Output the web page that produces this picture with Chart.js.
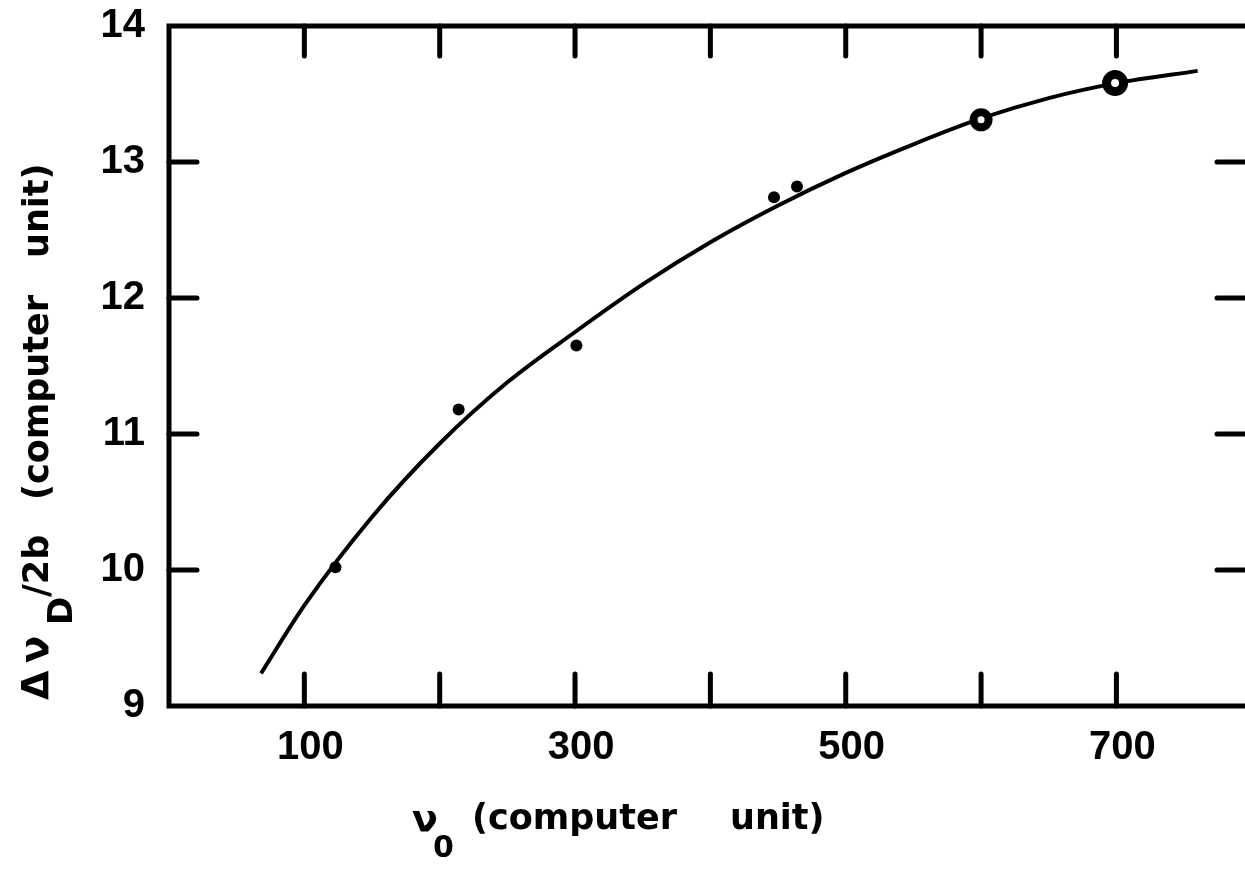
<!DOCTYPE html>
<html>
<head>
<meta charset="utf-8">
<script src="https://cdn.jsdelivr.net/npm/chart.js@4.4.1/dist/chart.umd.min.js"></script>
<style>
  html, body { margin: 0; padding: 0; background: #fff; }
  #wrap { width: 1245px; height: 870px; position: relative; }
</style>
</head>
<body>
<div id="wrap"><canvas id="grafico"></canvas></div>
<script>
// curva ajustada
const curvaX = [68, 100, 150, 200, 250, 300, 350, 400, 450, 500, 550, 600, 650, 700, 760];
const curvaY = [9.24, 9.74, 10.39, 10.93, 11.38, 11.75, 12.10, 12.41, 12.68, 12.92, 13.13, 13.32, 13.47, 13.58, 13.67];

// pontos pequenos
const pontosX = [123, 214, 301, 447, 464];
const pontosY = [10.02, 11.18, 11.65, 12.74, 12.82];

// pontos circulados
const aneisX = [600, 699];
const aneisY = [13.31, 13.58];

// eixos
const xTicks = [100, 200, 300, 400, 500, 600, 700];
const xLabels = [100, 300, 500, 700];
const yTicks = [9, 10, 11, 12, 13, 14];
const yMarcas = [10, 11, 12, 13];

const pares = (xs, ys) => xs.map((v, i) => ({ x: v, y: ys[i] }));

// moldura e tracinhos para dentro
const moldura = {
    id: 'moldura',
    afterDatasetsDraw(chart) {
        const { ctx, chartArea: a, scales: { x, y } } = chart;
        ctx.save();
        ctx.strokeStyle = '#000';
        ctx.lineWidth = 5;
        ctx.lineJoin = 'miter';
        ctx.beginPath();
        ctx.moveTo(a.right + 5, a.top);
        ctx.lineTo(a.left, a.top);
        ctx.lineTo(a.left, a.bottom);
        ctx.lineTo(a.right + 5, a.bottom);
        ctx.stroke();

        ctx.lineCap = 'round';
        ctx.beginPath();
        xTicks.forEach(v => {
            const px = x.getPixelForValue(v);
            ctx.moveTo(px, a.top);
            ctx.lineTo(px, a.top + 30);
            ctx.moveTo(px, a.bottom);
            ctx.lineTo(px, a.bottom - 32);
        });
        yMarcas.forEach(v => {
            const py = y.getPixelForValue(v);
            ctx.moveTo(a.left, py);
            ctx.lineTo(a.left + 28, py);
            ctx.moveTo(a.right, py);
            ctx.lineTo(a.right - 28, py);
        });
        ctx.stroke();
        ctx.restore();
    }
};

// títulos com subscrito
const titulos = {
    id: 'titulos',
    afterDraw(chart) {
        const ctx = chart.ctx;
        ctx.save();
        ctx.fillStyle = '#000';
        ctx.textAlign = 'left';
        ctx.textBaseline = 'alphabetic';

        // eixo x
        ctx.font = 'bold 38px "DejaVu Sans"';
        ctx.fillText('ν', 412, 831);
        ctx.font = 'bold 30px "DejaVu Sans"';
        ctx.fillText('0', 433, 857);
        ctx.font = 'bold 35px "DejaVu Sans"';
        ctx.fillText('(computer', 472, 829);
        ctx.fillText('unit)', 730, 829);

        // eixo y
        ctx.translate(48, 700);
        ctx.rotate(-Math.PI / 2);
        ctx.font = 'bold 38px "DejaVu Sans"';
        ctx.fillText('Δ', 0, 0);
        ctx.font = 'bold 40px "DejaVu Sans"';
        ctx.fillText('ν', 37, 0);
        ctx.font = 'bold 34px "DejaVu Sans"';
        ctx.fillText('D', 75, 24);
        ctx.font = 'bold 35px "DejaVu Sans"';
        ctx.fillText('/2b', 103, 0);
        ctx.fillText('(computer', 200, 0);
        ctx.fillText('unit)', 442, 0);
        ctx.restore();
    }
};

const fonteTick = { family: '"Liberation Sans", Arial, sans-serif', size: 40, weight: 'bold' };

new Chart(document.getElementById('grafico'), {
    type: 'scatter',
    data: {
        datasets: [
            {
                data: pares(curvaX, curvaY),
                showLine: true,
                borderColor: '#000',
                borderWidth: 4,
                pointRadius: 0,
                cubicInterpolationMode: 'monotone',
                order: 2
            },
            {
                data: pares(pontosX, pontosY),
                pointRadius: 6,
                pointBackgroundColor: '#000',
                pointBorderWidth: 0,
                order: 1
            },
            {
                data: pares(aneisX, aneisY),
                pointRadius: [7.5, 8.5],
                pointBackgroundColor: '#fff',
                pointBorderColor: '#000',
                pointBorderWidth: [8, 9],
                order: 0
            }
        ]
    },
    options: {
        responsive: true,
        maintainAspectRatio: false,
        animation: false,
        layout: { autoPadding: false, padding: { left: 0, top: 26, right: 0, bottom: 0 } },
        plugins: {
            legend: { display: false },
            tooltip: { enabled: false }
        },
        scales: {
            x: {
                type: 'linear',
                min: 0,
                max: 795,
                grid: { display: false },
                border: { display: false },
                afterBuildTicks: s => { s.ticks = xTicks.map(v => ({ value: v })); },
                afterFit: s => { s.height = 164; s.paddingLeft = 0; s.paddingRight = 0; },
                ticks: {
                    color: '#000',
                    font: fonteTick,
                    padding: 10,
                    labelOffset: 6,
                    maxRotation: 0,
                    autoSkip: false,
                    callback: v => xLabels.includes(v) ? String(v) : ''
                }
            },
            y: {
                type: 'linear',
                min: 9,
                max: 14,
                grid: { display: false },
                border: { display: false },
                afterBuildTicks: s => { s.ticks = yTicks.map(v => ({ value: v })); },
                afterFit: s => { s.width = 169; s.paddingTop = 0; s.paddingBottom = 0; },
                ticks: {
                    color: '#000',
                    font: fonteTick,
                    padding: 16,
                    autoSkip: false
                }
            }
        }
    },
    plugins: [moldura, titulos]
});
</script>
</body>
</html>
